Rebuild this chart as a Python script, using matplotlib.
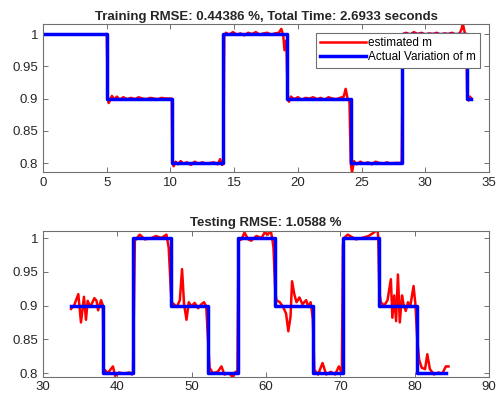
import matplotlib
matplotlib.use('Agg')
import matplotlib.pyplot as plt

plt.rcParams['font.family'] = ['Liberation Sans', 'DejaVu Sans']

# training: actual m (step edges) and estimated m (readings)
trainStepX = [0, 5.05, 10.1, 14.15, 19.15, 24.15, 28.2, 33.25, 33.6]
trainStepY = [1.0, 0.9, 0.8, 1.0, 0.9, 0.8, 1.0, 0.9, 0.9]

trainEstX = [5.0, 5.08, 5.15, 5.25, 5.4, 5.6, 5.8, 6.0, 6.3, 6.6, 6.9, 7.2, 7.5, 7.8, 8.1, 8.4,
             8.7, 9.0, 9.3, 9.6, 9.9, 10.1, 10.15, 10.25, 10.4, 10.6, 10.8, 11.0, 11.3, 11.6,
             11.9, 12.2, 12.5, 12.8, 13.1, 13.4, 13.7, 13.9, 14.05, 14.15, 14.22, 14.35, 14.6,
             14.9, 15.2, 15.5, 15.8, 16.1, 16.4, 16.7, 17.0, 17.3, 17.6, 17.9, 18.2, 18.5,
             18.7, 18.85, 18.95, 19.1, 19.2, 19.3, 19.45, 19.7, 20.0, 20.3, 20.6, 20.9, 21.2,
             21.5, 21.8, 22.1, 22.4, 22.7, 23.0, 23.3, 23.6, 23.75, 23.9, 24.05, 24.15, 24.25,
             24.4, 24.6, 24.9, 25.2, 25.5, 25.8, 26.1, 26.4, 26.7, 27.0, 27.3, 27.6, 27.9,
             28.15, 28.25, 28.5, 28.8, 29.1, 29.4, 29.7, 30.0, 30.3, 30.6, 30.9, 31.2, 31.5,
             31.8, 32.1, 32.4, 32.7, 32.85, 32.95, 33.1, 33.22, 33.3, 33.4, 33.5, 33.62]
trainEstY = [1.0, 0.903, 0.893, 0.897, 0.904, 0.899, 0.903, 0.898, 0.902, 0.899, 0.901, 0.899,
             0.902, 0.9, 0.899, 0.901, 0.9, 0.899, 0.901, 0.9, 0.9, 0.9, 0.8, 0.795, 0.802,
             0.798, 0.803, 0.799, 0.801, 0.797, 0.802, 0.799, 0.801, 0.799, 0.8, 0.801, 0.798,
             0.806, 0.797, 0.8, 0.997, 1.002, 0.999, 1.003, 0.999, 1.001, 0.998, 1.002, 1.0,
             1.003, 0.999, 1.001, 1.002, 0.999, 1.001, 1.002, 1.008, 0.998, 0.975, 0.99, 0.9,
             0.895, 0.903, 0.899, 0.902, 0.898, 0.901, 0.9, 0.902, 0.899, 0.901, 0.898, 0.902,
             0.9, 0.899, 0.901, 0.903, 0.915, 0.9, 0.895, 0.8, 0.785, 0.803, 0.798, 0.802, 0.799,
             0.801, 0.798, 0.802, 0.8, 0.799, 0.801, 0.799, 0.8, 0.8, 0.8, 1.0, 1.002, 0.999,
             1.003, 1.0, 1.002, 0.999, 1.001, 1.0, 1.002, 0.999, 1.001, 1.0, 1.002, 0.999,
             1.001, 1.008, 1.016, 1.002, 0.99, 0.9, 0.897, 0.903, 0.9]

# testing: actual m (step edges) and estimated m (readings)
testStepX = [33.76, 38.1, 42.1, 47.2, 52.2, 56.2, 61.2, 66.3, 70.3, 75.2, 80.3, 84.2]
testStepY = [0.9, 0.8, 1.0, 0.9, 0.8, 1.0, 0.9, 0.8, 1.0, 0.9, 0.8, 0.8]

testEstX = [33.76, 34.2, 34.74, 35.1, 35.5, 35.77, 36.0, 36.35, 36.9, 37.2, 37.4, 37.8, 38.05,
            38.15, 38.3, 38.7, 39.4, 39.7, 40.2, 40.9, 41.6, 41.95, 42.1, 42.35, 43.0, 43.7,
            44.6, 45.2, 45.9, 46.6, 46.9, 47.2, 47.3, 48.0, 48.4, 48.7, 48.97, 49.3, 49.6,
            49.95, 50.4, 50.85, 51.3, 51.65, 51.95, 52.2, 52.4, 52.85, 53.5, 54.0, 54.4, 55.0,
            55.55, 55.9, 56.15, 56.3, 56.7, 57.1, 57.6, 58.0, 58.7, 59.4, 59.8, 60.25, 60.6,
            60.85, 61.0, 61.25, 61.4, 61.85, 62.3, 62.7, 63.0, 63.3, 63.5, 63.8, 64.1, 64.5,
            64.9, 65.4, 65.7, 66.0, 66.3, 66.5, 67.0, 67.6, 68.1, 68.7, 69.3, 69.8, 70.2, 70.35,
            70.5, 71.0, 72.1, 72.9, 73.8, 74.5, 75.0, 75.1, 75.25, 75.45, 75.9, 76.35, 76.8,
            77.0, 77.25, 77.5, 77.75, 78.0, 78.3, 78.5, 78.8, 79.1, 79.4, 79.85, 80.1, 80.35,
            80.6, 80.95, 81.4, 81.7, 82.05, 82.6, 83.2, 83.7, 84.2, 84.55]
testEstY = [0.895, 0.901, 0.917, 0.875, 0.913, 0.879, 0.907, 0.898, 0.911, 0.907, 0.893, 0.908,
            0.9, 0.805, 0.805, 0.8, 0.81, 0.796, 0.801, 0.799, 0.801, 0.798, 0.8, 0.996, 1.005,
            0.998, 1.0, 1.003, 1.0, 1.005, 0.986, 0.92, 0.905, 0.898, 0.908, 0.954, 0.902, 0.879,
            0.905, 0.899, 0.904, 0.896, 0.902, 0.905, 0.899, 0.85, 0.808, 0.8, 0.802, 0.81,
            0.798, 0.8, 0.794, 0.802, 0.8, 0.996, 0.998, 1.008, 0.998, 0.996, 1.003, 1.0, 1.008,
            1.005, 1.013, 0.998, 0.986, 0.92, 0.908, 0.905, 0.898, 0.888, 0.862, 0.884, 0.936,
            0.917, 0.905, 0.912, 0.902, 0.908, 0.898, 0.905, 0.88, 0.805, 0.798, 0.815, 0.798,
            0.802, 0.798, 0.81, 0.8, 0.99, 1.0, 1.005, 0.998, 1.0, 1.003, 1.008, 1.013, 1.0,
            0.92, 0.905, 0.9, 0.908, 0.939, 0.882, 0.915, 0.877, 0.946, 0.875, 0.915, 0.902,
            0.892, 0.905, 0.898, 0.929, 0.902, 0.85, 0.82, 0.808, 0.806, 0.828, 0.806, 0.798,
            0.801, 0.799, 0.81, 0.81]

trainTitle = 'Training RMSE: 0.44386 %, Total Time: 2.6933 seconds'
testTitle = 'Testing RMSE: 1.0588 %'
yTicks = [0.8, 0.85, 0.9, 0.95, 1.0]
yTickLabels = ['0.8', '0.85', '0.9', '0.95', '1']

axisColor = '#707070'
textColor = '#262626'


def style_axis(ax):
    for spine in ax.spines.values():
        spine.set_color(axisColor)
        spine.set_linewidth(0.8)
    ax.tick_params(direction='in', top=True, right=True, length=3.5, width=0.7,
                   color=axisColor, labelcolor=textColor, labelsize=9.5)
    ax.set_yticks(yTicks)
    ax.set_yticklabels(yTickLabels)


fig = plt.figure(figsize=(5.01, 4.01), dpi=100)

ax1 = fig.add_axes([0.086, 0.571, 0.890, 0.369])
ax1.plot(trainEstX, trainEstY, color='red', lw=1.8, label='estimated m')
ax1.step(trainStepX, trainStepY, where='post', color='blue', lw=2.5, label='Actual Variation of m')
ax1.set_xlim(0, 35)
ax1.set_ylim(0.786, 1.0155)
ax1.set_xticks(range(0, 36, 5))
style_axis(ax1)
ax1.set_title(trainTitle, fontsize=9.5, fontweight='bold', color=textColor, pad=3)
leg = ax1.legend(loc='upper right', bbox_to_anchor=(0.98, 0.94), borderaxespad=0,
                 fontsize=8.5, handlelength=3.9, handletextpad=0.2, labelspacing=0.2,
                 borderpad=0.35, fancybox=False, framealpha=1)
leg.get_frame().set_edgecolor(axisColor)
leg.get_frame().set_linewidth(0.8)

ax2 = fig.add_axes([0.086, 0.061, 0.890, 0.364])
ax2.plot(testEstX, testEstY, color='red', lw=1.8)
ax2.step(testStepX, testStepY, where='post', color='blue', lw=2.5)
ax2.set_xlim(30, 90)
ax2.set_ylim(0.795, 1.011)
ax2.set_xticks(range(30, 91, 10))
style_axis(ax2)
ax2.set_title(testTitle, fontsize=9.5, fontweight='bold', color=textColor, pad=3)

fig.savefig('out.png', dpi=100)
